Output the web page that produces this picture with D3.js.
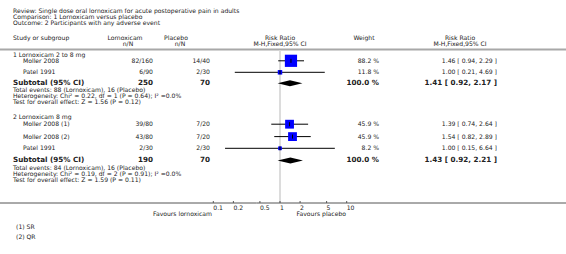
<!DOCTYPE html>
<html><head><meta charset="utf-8">
<script src="https://cdn.jsdelivr.net/npm/d3@7"></script>
<style>
html,body{margin:0;padding:0;background:#fff;}
svg{display:block;font-family:"DejaVu Sans",Verdana,sans-serif;}
</style></head>
<body><svg id="c" width="566" height="254"></svg>
<script>
// ---- data ----
const headerLines = ["Review:  Single dose oral lornoxicam for acute postoperative pain in adults",
  "Comparison:  1 Lornoxicam versus placebo",
  "Outcome:  2 Participants with any adverse event"];
const groupTitles = ["1 Lornoxicam 2 to 8 mg", "2 Lornoxicam 8 mg"];
const studyNames = ["Moller 2008", "Patel 1991", "Moller 2008 (1)", "Moller 2008 (2)", "Patel 1991"];
const studyGroup = [0, 0, 1, 1, 1];
const lornoxicamNN = ["82/160", "6/90", "39/80", "43/80", "2/30"];
const placeboNN = ["14/40", "2/30", "7/20", "7/20", "2/30"];
const weights = [88.2, 11.8, 45.9, 45.9, 8.2];
const rr = [1.46, 1.00, 1.39, 1.54, 1.00];
const rrLo = [0.94, 0.21, 0.74, 0.82, 0.15];
const rrHi = [2.29, 4.69, 2.64, 2.89, 6.64];
const subTotalLorn = [250, 190];
const subTotalPlac = [70, 70];
const subRR = [1.41, 1.43];
const subLo = [0.92, 0.92];
const subHi = [2.17, 2.21];
const subEvents = ["Total events: 88 (Lornoxicam), 16 (Placebo)", "Total events: 84 (Lornoxicam), 16 (Placebo)"];
const subHet = ["Heterogeneity: Chi\u00b2 = 0.22, df = 1 (P = 0.64); I\u00b2 =0.0%", "Heterogeneity: Chi\u00b2 = 0.19, df = 2 (P = 0.91); I\u00b2 =0.0%"];
const subTest = ["Test for overall effect: Z = 1.56 (P = 0.12)", "Test for overall effect: Z = 1.59 (P = 0.11)"];
const axisTicks = [0.1, 0.2, 0.5, 1, 2, 5, 10];
const favoursLeft = "Favours lornoxicam";
const favoursRight = "Favours placebo";
const footnotes = ["(1) SR", "(2) QR"];

// ---- layout ----
const svg = d3.select("#c");
const TXT = "#222";
const FS = 6.1, FSB = 7.2;
const x = d3.scaleLog().domain([0.1, 10]).range([213.3, 346.7]);
const sq = d3.scaleSqrt().domain([0, 100]).range([0, 13]);
const fmt = d3.format(".2f");

// row positions (y centres)
const groupTitleY = [54.6, 117.3];
const studyY = [60.8, 72.3, 124.2, 136.6, 148.3];
const subY = [82.7, 159.8];
const subInfoY = [[90.0, 96.1, 102.2], [167.6, 173.8, 180]];
const axisY = 203;

function text(xp, yp, s, opt = {}) {
  return svg.append("text").attr("x", xp).attr("y", yp).attr("dy", "0.35em")
    .attr("font-size", opt.size || FS).attr("font-weight", opt.bold ? "bold" : null)
    .attr("text-anchor", opt.anchor || "start").attr("fill", TXT).text(s);
}

// header
headerLines.forEach((s, i) => text(13, 11 + i * 6.1, s));
text(13, 37.7, "Study or subgroup");
text(125, 37.7, "Lornoxicam", {anchor: "middle"});
text(128, 44, "n/N", {anchor: "middle"});
text(176, 37.7, "Placebo", {anchor: "middle"});
text(180, 44, "n/N", {anchor: "middle"});
text(280, 37.7, "Risk Ratio", {anchor: "middle"});
text(280, 44, "M-H,Fixed,95% CI", {anchor: "middle"});
text(364, 37.7, "Weight", {anchor: "middle"});
text(460, 37.7, "Risk Ratio", {anchor: "middle"});
text(460, 44, "M-H,Fixed,95% CI", {anchor: "middle"});

svg.append("line").attr("x1", 0).attr("x2", 566).attr("y1", 49.5).attr("y2", 49.5)
  .attr("stroke", "#a8a8a8").attr("stroke-width", 2);

// null line
svg.append("line").attr("x1", x(1)).attr("x2", x(1)).attr("y1", 50.5).attr("y2", axisY)
  .attr("stroke", "#dcdcdc").attr("stroke-width", 2);

// groups
groupTitles.forEach((g, gi) => {
  text(13, groupTitleY[gi], g);
  text(13, subY[gi], "Subtotal (95% CI)", {bold: true, size: FSB});
  text(153, subY[gi], subTotalLorn[gi], {bold: true, size: FSB, anchor: "end"});
  text(210, subY[gi], subTotalPlac[gi], {bold: true, size: FSB, anchor: "end"});
  text(379, subY[gi], "100.0 %", {bold: true, size: FSB, anchor: "end"});
  text(497, subY[gi], `${fmt(subRR[gi])} [ ${fmt(subLo[gi])}, ${fmt(subHi[gi])} ]`, {bold: true, size: FSB, anchor: "end"});
  [subEvents[gi], subHet[gi], subTest[gi]].forEach((s, k) => text(13, subInfoY[gi][k], s));
  const yc = subY[gi] + 0.6, h = 3;
  svg.append("path").attr("fill", "#000")
    .attr("d", `M${x(subLo[gi])},${yc}L${x(subRR[gi])},${yc - h}L${x(subHi[gi])},${yc}L${x(subRR[gi])},${yc + h}Z`);
});

// studies
studyNames.forEach((n, i) => {
  const yc = studyY[i];
  text(23, yc, n);
  text(153, yc, lornoxicamNN[i], {anchor: "end"});
  text(210, yc, placeboNN[i], {anchor: "end"});
  text(379, yc, d3.format(".1f")(weights[i]) + " %", {anchor: "end"});
  text(497, yc, `${fmt(rr[i])} [ ${fmt(rrLo[i])}, ${fmt(rrHi[i])} ]`, {anchor: "end"});
  svg.append("line").attr("x1", x(rrLo[i])).attr("x2", x(rrHi[i])).attr("y1", yc).attr("y2", yc)
    .attr("stroke", "#000").attr("stroke-width", 1);
  const s = sq(weights[i]);
  svg.append("rect").attr("x", x(rr[i]) - s / 2).attr("y", yc - s / 2).attr("width", s).attr("height", s)
    .attr("fill", "#0000ff");
  svg.append("line").attr("x1", x(rr[i])).attr("x2", x(rr[i])).attr("y1", yc - 2).attr("y2", yc + 2)
    .attr("stroke", "#000").attr("stroke-width", 1);
});

// axis
svg.append("line").attr("x1", 0).attr("x2", 566).attr("y1", axisY).attr("y2", axisY)
  .attr("stroke", "#555").attr("stroke-width", 1);
axisTicks.forEach(t => {
  svg.append("line").attr("x1", x(t)).attr("x2", x(t)).attr("y1", axisY - 2).attr("y2", axisY)
    .attr("stroke", "#555").attr("stroke-width", 1);
  text(x(t), 207.8, t, {});
});
text(212, 213.5, favoursLeft, {anchor: "end"});
text(346, 213.5, favoursRight, {anchor: "end"});

footnotes.forEach((f, i) => text(16, 227.3 + i * 9.4, f));
</script></body></html>
